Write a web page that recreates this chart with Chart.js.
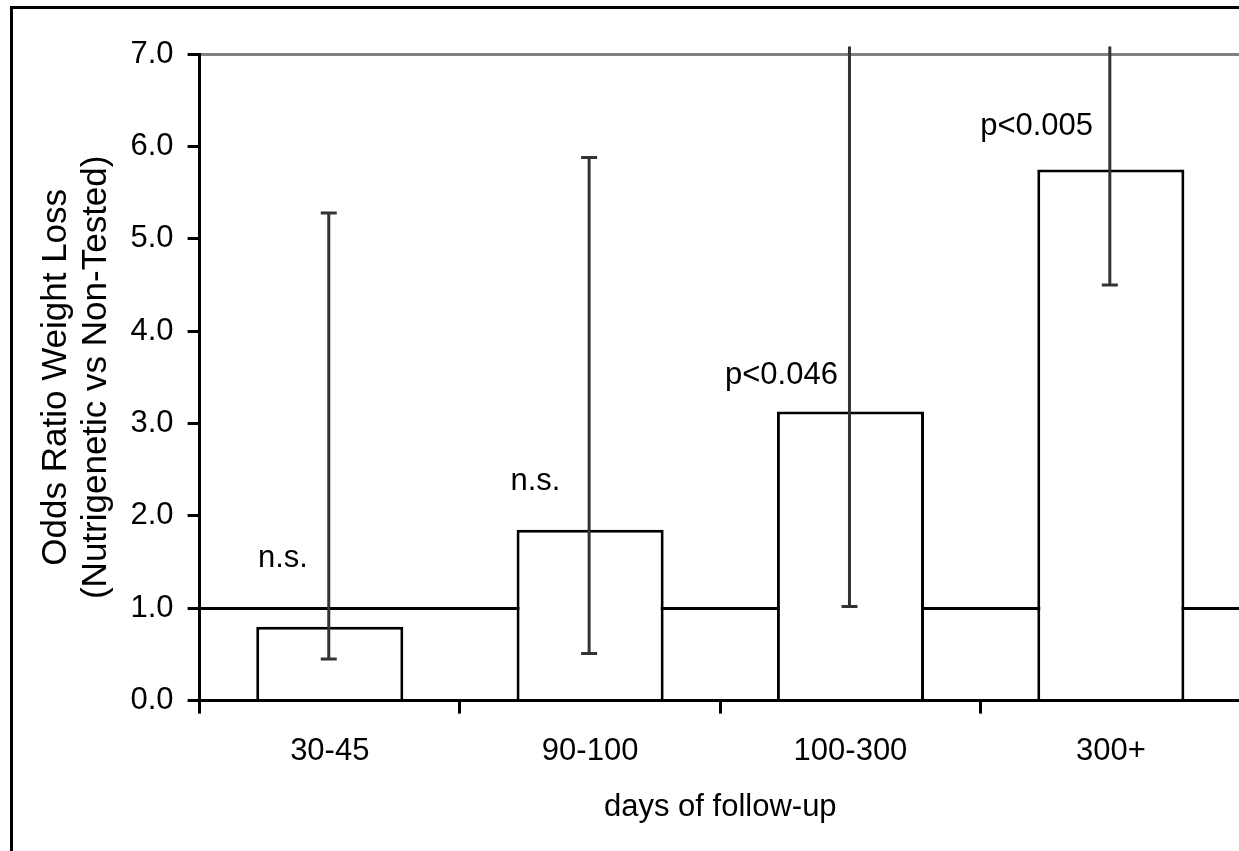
<!DOCTYPE html>
<html>
<head>
<meta charset="utf-8">
<title>Odds ratio weight loss by follow-up</title>
<script src="https://cdn.jsdelivr.net/npm/chart.js@4.4.1/dist/chart.umd.min.js"></script>
<style>
  html, body { margin: 0; padding: 0; background: #fff; overflow: hidden; }
  #frame {
    position: absolute; left: 10px; top: 6px; width: 1400px; height: 1000px;
    border-left: 3px solid #000; border-top: 3px solid #000;
  }
  #chart { position: absolute; left: 0; top: 0; }
</style>
</head>
<body>
<div id="frame"></div>
<canvas id="chart" width="1262" height="851"></canvas>
<script>
const categories = ['30-45', '90-100', '100-300', '300+'];
const oddsRatio = [0.80, 1.85, 3.13, 5.75];
const ciLow = [0.45, 0.51, 1.02, 4.50];
// upper limits of the last two run off the top of the plot; visible end only
const ciHigh = [5.28, 5.88, 7.08, 7.08];
const sigLabels = ['n.s.', 'n.s.', 'p<0.046', 'p<0.005'];
const sigLabelY = [1.45, 2.28, 3.43, 6.12];
const sigLabelShift = [-0.18, -0.21, -0.265, -0.285];

const FONT = "'Liberation Sans', Arial, Helvetica, sans-serif";

const errorBars = {
  id: 'errorBars',
  afterDatasetsDraw(chart) {
    const ctx = chart.ctx;
    const ys = chart.scales.y;
    const meta = chart.getDatasetMeta(0);
    ctx.save();
    ctx.strokeStyle = '#333';
    ctx.lineWidth = 3;
    meta.data.forEach((bar, i) => {
      const x = bar.x - 1;
      const yLo = ys.getPixelForValue(ciLow[i]);
      const yHi = ys.getPixelForValue(ciHigh[i]);
      ctx.beginPath();
      ctx.moveTo(x, yLo);
      ctx.lineTo(x, yHi);
      ctx.moveTo(x - 8, yLo);
      ctx.lineTo(x + 8, yLo);
      if (ciHigh[i] < ys.max) {
        ctx.moveTo(x - 8, yHi);
        ctx.lineTo(x + 8, yHi);
      }
      ctx.stroke();
    });
    ctx.restore();
  }
};

const sigText = {
  id: 'sigText',
  afterDraw(chart) {
    const ctx = chart.ctx;
    const xs = chart.scales.x;
    const ys = chart.scales.y;
    ctx.save();
    ctx.font = '31px ' + FONT;
    ctx.fillStyle = '#000';
    ctx.textAlign = 'center';
    ctx.textBaseline = 'alphabetic';
    sigLabels.forEach((t, i) => {
      ctx.fillText(t, xs.getPixelForValue(i + sigLabelShift[i]), ys.getPixelForValue(sigLabelY[i]));
    });
    ctx.restore();
  }
};

new Chart(document.getElementById('chart'), {
  type: 'bar',
  data: {
    labels: categories,
    datasets: [{
      data: oddsRatio,
      backgroundColor: '#fff',
      borderColor: '#000',
      borderWidth: 3,
      borderSkipped: 'start',
      barPercentage: 0.565,
      categoryPercentage: 1
    }]
  },
  options: {
    responsive: false,
    animation: false,
    layout: { padding: { left: 36, top: 54, right: 21, bottom: 25 } },
    plugins: { legend: { display: false }, tooltip: { enabled: false } },
    scales: {
      x: {
        offset: true,
        grid: { drawOnChartArea: false, offset: true, tickLength: 13, tickColor: '#000', tickWidth: 3, lineWidth: 3 },
        border: { color: '#000', width: 3 },
        ticks: { color: '#000', font: { family: FONT, size: 31 }, padding: 19, maxRotation: 0 },
        title: { display: true, text: 'days of follow-up', color: '#000', font: { family: FONT, size: 31 }, padding: { top: 0, bottom: 0 } }
      },
      y: {
        min: 0,
        max: 7,
        z: 1,
        grid: {
          color: (c) => c.tick && c.tick.value === 7 ? '#808080' : (c.tick && c.tick.value === 1 ? '#000' : 'rgba(0,0,0,0)'),
          lineWidth: 3,
          tickColor: '#000',
          tickWidth: 3,
          tickLength: 12
        },
        border: { color: '#000', width: 3 },
        ticks: { stepSize: 1, color: '#000', font: { family: FONT, size: 31 }, padding: 14, callback: (v) => v.toFixed(1) },
        title: {
          display: true,
          text: ['Odds Ratio Weight Loss', '(Nutrigenetic vs Non-Tested)'],
          color: '#000',
          font: { family: FONT, size: 35, lineHeight: 1.15 },
          padding: { top: 0, bottom: 0 }
        }
      }
    }
  },
  plugins: [errorBars, sigText]
});
</script>
</body>
</html>
